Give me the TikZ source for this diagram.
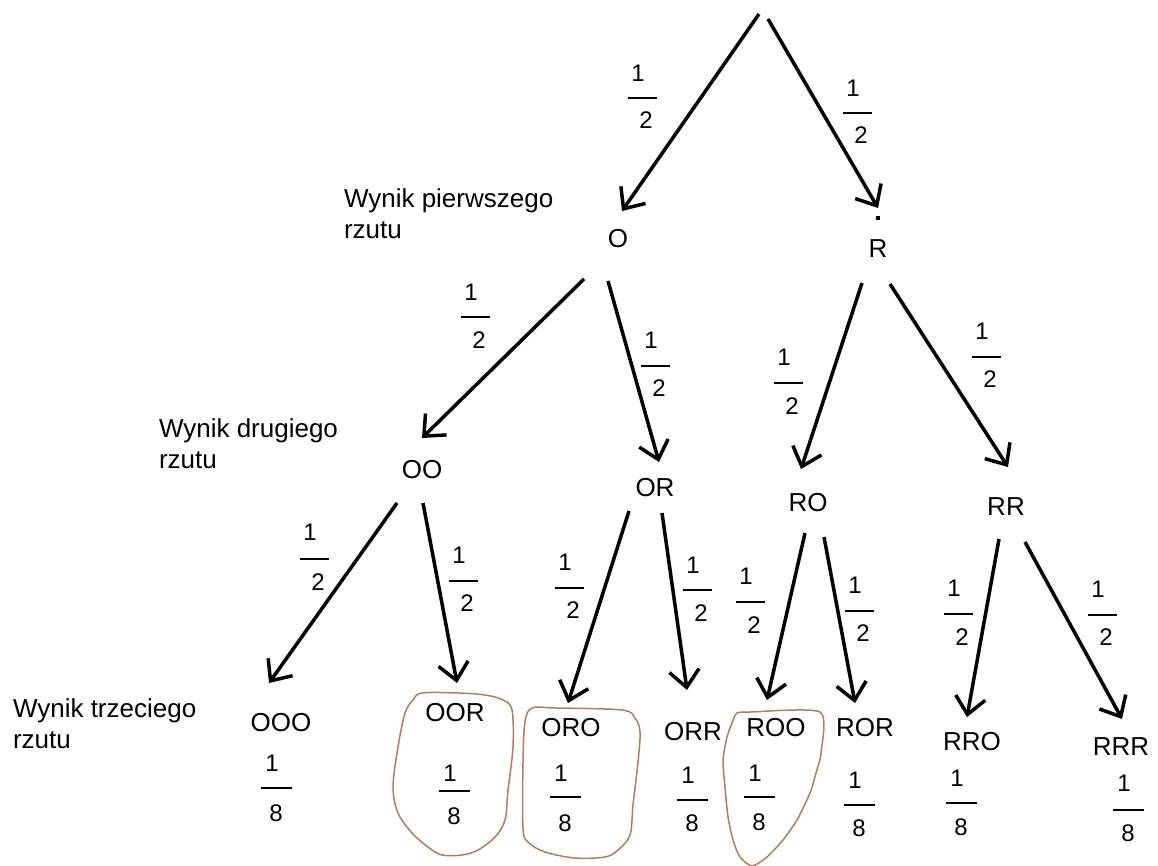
\documentclass[tikz,border=0pt]{standalone}
\usepackage{fontspec}
\setmainfont{Liberation Sans}
\usetikzlibrary{arrows.meta}
\definecolor{markbrown}{RGB}{185,122,87}

\tikzset{
  every node/.style={inner sep=0pt, outer sep=0pt},
  outcome/.style={font=\fontsize{26}{31}\selectfont},
  digit/.style={font=\fontsize{24}{29}\selectfont},
  side/.style={font=\fontsize{26}{31}\selectfont, anchor=base west},
  branch/.style={line width=3.5pt, -{Straight Barb[length=17pt,width=30pt]}},
  ring/.style={draw=markbrown, line width=1.5pt},
}

\newcommand\halfbar{\rule{29pt}{1.3pt}}
\newcommand\eighthbar{\rule{31pt}{1.3pt}}
% probability written as a stacked fraction:
% #1 name, #2 bar centre x, #3 numerator y, #4 bar y, #5 denominator y,
% #6 denominator, #7 denominator x offset, #8 bar
\newcommand\probfrac[8]{%
  \node[digit] (#1-num) at (#2-4,#3) {1};
  \node (#1-bar) at (#2,#4) {#8};
  \node[digit] (#1-den) at (#2+#7,#5) {#6};
}

\begin{document}
\begin{tikzpicture}[x=1pt,y=-1pt]
\fill[white] (0,0) rectangle (1158,866);
\useasboundingbox (0,0) rectangle (1158,866);

% level captions
\node[side] (cap1) at (344,208) {\begin{tabular}[t]{@{}l@{}}Wynik pierwszego\\rzutu\end{tabular}};
\node[side] (cap2) at (159,437) {\begin{tabular}[t]{@{}l@{}}Wynik drugiego\\rzutu\end{tabular}};
\node[side] (cap3) at (13,717) {\begin{tabular}[t]{@{}l@{}}Wynik trzeciego\\rzutu\end{tabular}};

% outcomes
\node[outcome] (O) at (618,239) {O};
\node[outcome] (R) at (878,249) {R};
\fill (875.5,216) rectangle (879.5,220);

\node[outcome] (OO) at (422,470) {OO};
\node[outcome] (OR) at (655,488) {OR};
\node[outcome] (RO) at (808,503) {RO};
\node[outcome] (RR) at (1006,507) {RR};

\node[outcome] (OOO) at (281,723) {OOO};
\node[outcome] (OOR) at (455,713) {OOR};
\node[outcome] (ORO) at (571,728) {ORO};
\node[outcome] (ORR) at (693,732) {ORR};
\node[outcome] (ROO) at (776,728) {ROO};
\node[outcome] (ROR) at (865,728) {ROR};
\node[outcome] (RRO) at (972,742) {RRO};
\node[outcome] (RRR) at (1121,747) {RRR};

% arrow ends
\coordinate (root-l) at (759,14);   \coordinate (O-in)   at (622,211);
\coordinate (root-r) at (768,19);   \coordinate (R-in)   at (878,208);
\coordinate (O-l)    at (584,279);  \coordinate (OO-in)  at (422,438);
\coordinate (O-r)    at (608,281);  \coordinate (OR-in)  at (659,462);
\coordinate (R-l)    at (862,283);  \coordinate (RO-in)  at (801,469);
\coordinate (R-r)    at (890,284);  \coordinate (RR-in)  at (1008,467);
\coordinate (OO-l)   at (397,503);  \coordinate (OOO-in) at (269,683);
\coordinate (OO-r)   at (423,503);  \coordinate (OOR-in) at (457,683);
\coordinate (OR-l)   at (629,511);  \coordinate (ORO-in) at (568,703);
\coordinate (OR-r)   at (662,513);  \coordinate (ORR-in) at (687,690);
\coordinate (RO-l)   at (805,533);  \coordinate (ROO-in) at (767,700);
\coordinate (RO-r)   at (824,537);  \coordinate (ROR-in) at (855,703);
\coordinate (RR-l)   at (999,539);  \coordinate (RRO-in) at (967,717);
\coordinate (RR-r)   at (1025,542); \coordinate (RRR-in) at (1122,719);

% branches
\draw[branch] (root-l) -- (O-in);
\draw[branch] (root-r) -- (R-in);
\draw[branch] (O-l) -- (OO-in);
\draw[branch] (O-r) -- (OR-in);
\draw[branch] (R-l) -- (RO-in);
\draw[branch] (R-r) -- (RR-in);
\draw[branch] (OO-l) -- (OOO-in);
\draw[branch] (OO-r) -- (OOR-in);
\draw[branch] (OR-l) -- (ORO-in);
\draw[branch] (OR-r) -- (ORR-in);
\draw[branch] (RO-l) -- (ROO-in);
\draw[branch] (RO-r) -- (ROR-in);
\draw[branch] (RR-l) -- (RRO-in);
\draw[branch] (RR-r) -- (RRR-in);

% branch probabilities
\probfrac{pO}{642}{73}{98}{120}{2}{4}{\halfbar}
\probfrac{pR}{857}{88}{113}{135}{2}{4}{\halfbar}
\probfrac{pOO}{475}{292}{317}{340}{2}{4}{\halfbar}
\probfrac{pOR}{655}{340}{366}{388}{2}{4}{\halfbar}
\probfrac{pRO}{788}{357}{383}{406}{2}{4}{\halfbar}
\probfrac{pRR}{986}{331}{357}{379}{2}{4}{\halfbar}
\probfrac{pOOO}{314}{532}{559}{582}{2}{4}{\halfbar}
\probfrac{pOOR}{463}{555}{581}{603}{2}{4}{\halfbar}
\probfrac{pORO}{569}{562}{588}{610}{2}{4}{\halfbar}
\probfrac{pORR}{697}{565}{590}{613}{2}{4}{\halfbar}
\probfrac{pROO}{750}{576}{602}{625}{2}{4}{\halfbar}
\probfrac{pROR}{859}{585}{611}{633}{2}{4}{\halfbar}
\probfrac{pRRO}{958}{588}{614}{637}{2}{4}{\halfbar}
\probfrac{pRRR}{1102}{589}{615}{637}{2}{4}{\halfbar}

% outcome probabilities
\probfrac{fOOO}{276}{763}{788}{813}{8}{0}{\eighthbar}
\probfrac{fOOR}{454}{773}{791}{816}{8}{0}{\eighthbar}
\probfrac{fORO}{565}{773}{797}{823}{8}{0}{\eighthbar}
\probfrac{fORR}{692}{775}{800}{823}{8}{0}{\eighthbar}
\probfrac{fROO}{759}{773}{797}{822}{8}{0}{\eighthbar}
\probfrac{fROR}{859}{780}{805}{828}{8}{0}{\eighthbar}
\probfrac{fRRO}{961}{778}{803}{827}{8}{0}{\eighthbar}
\probfrac{fRRR}{1128}{783}{810}{833}{8}{0}{\eighthbar}

% hand-drawn rings round the chosen outcomes
\draw[ring] plot[smooth cycle, tension=0.55] coordinates {
  (422,693) (458,693) (485,695) (503,700) (512,710) (513,747) (508,790)
  (505,820) (495,837) (478,850) (462,855) (442,855) (428,847) (412,833)
  (398,813) (393,787) (398,747) (405,713) (413,700)};
\draw[ring] plot[smooth cycle, tension=0.55] coordinates {
  (532,708) (555,708) (622,710) (635,718) (640,732) (638,762) (633,805)
  (630,835) (618,850) (605,857) (575,858) (545,852) (528,842) (523,828)
  (523,762) (525,722)};
\draw[ring] plot[smooth cycle, tension=0.4] coordinates {
  (737,713) (750,712) (820,712) (821,753) (816,773) (810,793) (797,820)
  (783,840) (767,857) (752,866) (740,857) (733,840) (728,817) (725,787)
  (723,760) (727,737) (732,723)};
\end{tikzpicture}
\end{document}
